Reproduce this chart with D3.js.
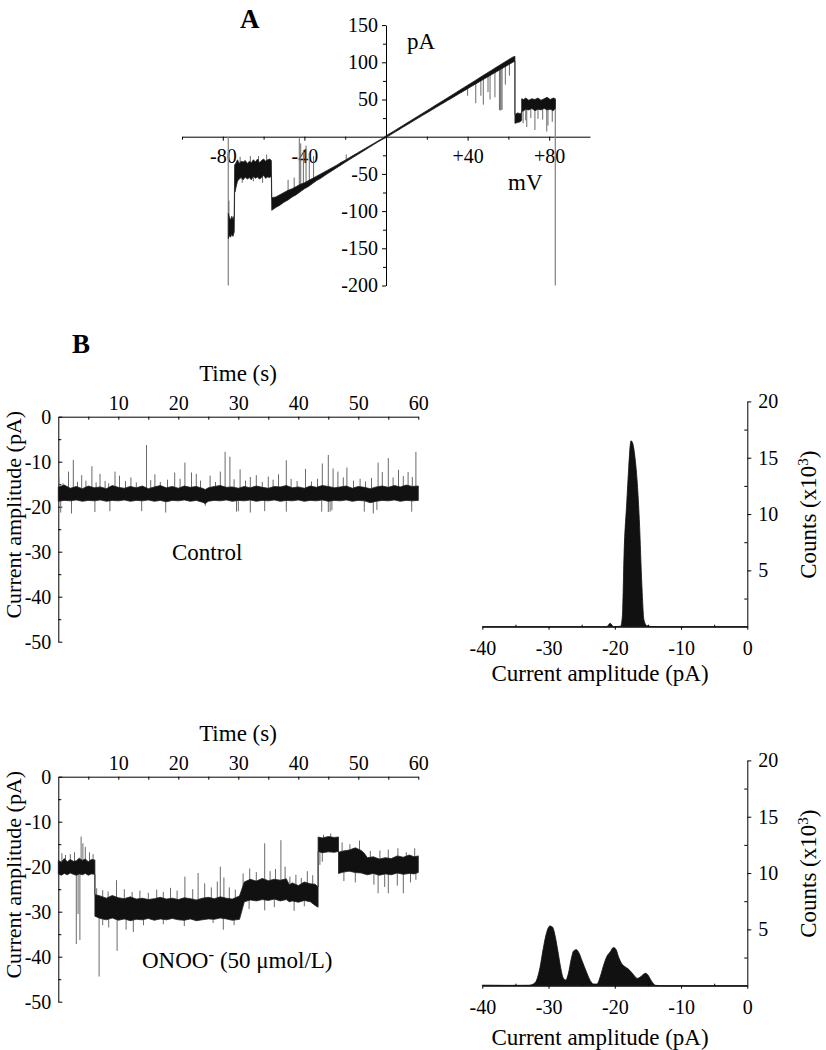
<!DOCTYPE html>
<html><head><meta charset="utf-8">
<script src="https://cdn.jsdelivr.net/npm/d3@7"></script>
<style>
body{margin:0;background:#fff;}
svg{display:block;font-family:"Liberation Serif","Times New Roman",serif;}
.axis path,.axis line{stroke:#000;stroke-width:1;}
.axis text{font-size:20px;fill:#000;font-family:"Liberation Serif","Times New Roman",serif;}
.title{font-size:23px;fill:#000;}
</style></head><body><svg id="c" width="826" height="1050"></svg>
<script>
// ---------------- Panel A : I-V ramp ----------------
const ivVoltTicks = [-80, -40, 40, 80];
const ivVoltTickLabels = ["-80", "-40", "+40", "+80"];
const ivVoltMinor = [-100, -60, -20, 20, 60];
const ivCurrTicks = [150, 100, 50, -50, -100, -150, -200];
const ivCurrMinor = [125, 75, 25, -25, -75, -125, -175];
// [mV, low pA, high pA]
const ivEnvelope = [
 [-77.3,-137,-103],[-76.8,-133,-108],[-76.2,-135,-112],[-75.6,-131,-107],[-75.0,-134,-111],[-74.4,-128,-106],
 [-74.2,-75,-38],[-73.5,-68,-35],[-72.8,-60,-31],[-72,-57,-36],[-71,-55,-33],[-70,-58,-34],[-69,-54,-32],
 [-68,-57,-36],[-67,-55,-33],[-66,-58,-35],[-65,-53,-31],[-64,-56,-34],[-63,-54,-30],[-62,-57,-35],
 [-61,-55,-32],[-60,-52,-30],[-59,-56,-33],[-58,-54,-31],[-57,-55,-30],[-56.2,-53,-32],
 [-56.0,-99,-82],[-54,-95,-81],[-52,-92,-78],[-50,-88,-75],[-48,-85,-72],[-46,-81,-70],[-44,-78,-67],
 [-42,-74,-64],[-40,-70,-62],[-38,-67,-59],[-36,-63,-56],[-34,-59,-53],[-32,-56,-50],[-30,-52,-47],
 [-28,-48.5,-44],[-26,-45,-41],[-24,-41.5,-38],[-22,-38,-34.5],[-20,-34.5,-31.5],[-18,-31,-28.2],
 [-16,-27.6,-25],[-14,-24.2,-21.8],[-12,-20.8,-18.6],[-10,-17.4,-15.4],[-8,-14,-12.2],[-6,-10.6,-9],
 [-4,-7.2,-5.8],[-2,-4,-2.6],[0,-1.2,1.2],
 [2,2.2,4.5],[4,5.5,7.8],[6,8.8,11.2],[8,12.2,14.6],[10,15.5,18],[12,18.8,21.4],[14,22.1,24.8],[16,25.4,28.2],
 [18,28.7,31.6],[20,32,35],[22,35.2,38.4],[24,38.5,41.8],[26,41.8,45.2],[28,45,48.6],[30,48.3,52],[32,51.5,55.5],
 [34,54.8,58.9],[36,58,62.3],[38,61.2,65.8],[40,64.5,69.2],[42,67.7,72.6],[44,71,76],[46,74.2,79.5],
 [48,77.4,83],[50,80.6,86.4],[52,83.8,89.8],[54,87,93.2],[56,90.2,96.6],[58,93.4,100],[60,96.6,103.4],
 [62,99.8,106.8],[63.2,101.5,108],
 [63.2,18,30],[64.5,19,32],[65.8,20,31],[66.5,22,33],
 [66.5,34,51],[67.5,35,50],[68.5,37,52],[70,36,49],[71.5,38,51],[73,35,50],[74.5,37,52],[76,36,49],
 [77.5,38,51],[79,36,53],[80.5,37,50],[82,35,52],[83,38,51]
];
// [mV, tip pA]
const ivSpikes = [
 [-77.0,-86],[-73.8,-74],[-71.5,-27],[-70.5,-62],[-66.5,-26],[-65,-60],[-62.5,-26],[-60.5,-62],[-58.5,-24],
 [-48,-58],[-45,-55],[-42.5,-2],[-41.8,-9],[-40.5,-18],[-39.2,-12],[-37.6,-22],[-35.5,-26],[-19.5,-24],
 [40,55],[44,45],[46.5,55],[47.7,43],[50,60],[51,50],[53.4,53],[55.6,36],[56,35],[56.4,36],[56.9,36],
 [58.5,70],[60.5,82],[67.2,18],[68.5,22],[69.0,13],[71.0,25],[73,9],[74.5,24],[76.8,23],[78.8,7],[79.4,15],[81.5,20]
];
// ramp-edge artefacts [mV, from pA, to pA]
const ivEdges = [[-77.3, 0, -200], [83, 50, -200]];

// ---------------- Panel B : traces ----------------
const timeTicks = [10, 20, 30, 40, 50, 60];
const timeMinor = [5, 15, 25, 35, 45, 55];
const ampTicks = [0, -10, -20, -30, -40, -50];
const ampMinor = [-5, -15, -25, -35, -45];
// control trace envelope [s, low pA, high pA]
const controlEnvelope = [
 [0,-18.8,-15.6],[1,-18.6,-15.2],[2,-18.7,-15.9],[3,-18.5,-15.5],[4,-18.8,-16.0],[5,-18.6,-15.4],
 [6,-18.7,-15.8],[7,-18.5,-15.6],[8,-18.8,-16.0],[9,-18.6,-15.3],[10,-18.7,-15.7],[11,-18.5,-15.9],
 [12,-18.8,-15.5],[13,-18.6,-15.8],[14,-18.7,-15.4],[15,-18.5,-16.0],[16,-18.8,-15.6],[17,-18.6,-15.3],
 [18,-18.9,-15.8],[19,-18.6,-15.5],[20,-18.7,-15.9],[21,-18.5,-15.4],[22,-18.8,-15.7],[23,-18.6,-15.5],
 [24,-19.0,-15.9],[24.5,-19.3,-16.2],[25,-18.8,-15.8],[26,-18.6,-15.5],[27,-18.7,-15.3],[28,-18.5,-15.7],
 [29,-18.8,-15.6],[30,-18.6,-15.9],[31,-18.7,-15.5],[32,-18.5,-15.8],[33,-18.8,-15.4],[34,-18.6,-15.7],
 [35,-18.7,-15.9],[36,-18.5,-15.5],[37,-18.8,-15.6],[38,-18.6,-15.3],[39,-18.7,-15.8],[40,-18.5,-15.6],
 [41,-18.8,-15.9],[42,-18.6,-15.4],[43,-18.7,-15.7],[44,-18.5,-15.3],[45,-18.8,-15.5],[46,-18.6,-15.8],
 [47,-18.7,-15.6],[48,-18.5,-15.4],[49,-18.8,-15.9],[50,-18.6,-15.5],[51,-18.7,-15.7],[52,-19.1,-16.0],
 [53,-18.8,-15.6],[54,-18.6,-15.4],[55,-18.7,-15.7],[56,-18.5,-15.3],[57,-18.8,-15.6],[58,-18.6,-15.2],
 [59,-18.7,-15.5],[60,-18.6,-15.4]
];
// [s, tip pA]
const controlSpikes = [
 [0.1,-13.5],[0.8,-14.8],[1.7,-12.2],[2.5,-9.6],[3.2,-14.5],[3.9,-13],[4.6,-14.2],[5.6,-11],[6.3,-14.6],
 [6.95,-12.7],[7.8,-14.3],[8.4,-14.8],[9.45,-12.2],[10.2,-13.1],[11.2,-14.3],[12.1,-13.5],[13.0,-14.6],
 [14.7,-6.3],[15.4,-14.1],[16.1,-12.8],[17.0,-14.5],[18.2,-14.0],[19.4,-12.4],[20.3,-13.8],[21.1,-10.2],
 [22.2,-12.4],[23.0,-12.7],[23.7,-14.2],[25.3,-13.1],[26.2,-14.5],[27.0,-12.2],[27.8,-7.8],[28.6,-8.9],
 [29.3,-13.9],[30.3,-11.7],[31.2,-14.2],[32.0,-13.4],[33.0,-13.0],[34.0,-14.5],[35.0,-13.3],[35.8,-14.0],
 [36.7,-12.8],[38.0,-9.7],[38.8,-13.8],[39.8,-14.3],[41.2,-11.6],[42.2,-14.4],[43.2,-13.8],[44.0,-10.4],
 [45.0,-8.5],[45.8,-11.5],[46.6,-12.2],[47.5,-13.5],[48.1,-11.3],[49.2,-14.2],[50.3,-13.8],[51.2,-14.4],
 [52.2,-13.6],[53.3,-10.2],[54.0,-12.3],[55.0,-9.2],[55.8,-13.5],[56.7,-11.8],[57.5,-13.2],[58.3,-12.3],
 [59.0,-13.4],[59.6,-7.8],
 [0.4,-21.3],[2.2,-21.5],[6.1,-21.2],[8.6,-21.0],[13.9,-21.0],[17.9,-21.3],[24.5,-19.8],[29.7,-21.1],
 [30.0,-21.0],[32.0,-21.3],[34.4,-21.0],[38.0,-21.1],[43.9,-21.1],[45.0,-21.2],[45.3,-21.1],[45.6,-20.8],
 [51.0,-21.1],[52.5,-21.5],[53.1,-20.7],[58.9,-21.1]
];
// ONOO- trace envelope [s, low pA, high pA]
const onooEnvelope = [
 [0,-21.6,-18.6],[0.5,-21.9,-19.0],[1,-21.5,-18.2],[1.5,-21.8,-18.9],[2,-21.4,-18.4],[2.5,-21.7,-18.8],
 [3,-21.9,-18.7],[3.5,-21.6,-18.1],[4,-21.8,-18.6],[4.5,-21.5,-18.3],[5,-21.9,-18.9],[5.5,-21.6,-18.4],
 [6.1,-21.7,-18.5],
 [6.1,-31.0,-26.2],[7,-31.5,-26.5],[8,-31.8,-27.0],[9,-31.4,-26.4],[10,-31.9,-26.9],[11,-31.6,-27.1],
 [12,-32.0,-26.7],[13,-31.7,-27.2],[14,-31.8,-27.0],[15,-31.5,-27.3],[16,-31.9,-27.1],[17,-31.6,-26.8],
 [18,-31.8,-27.2],[19,-31.5,-27.0],[20,-31.8,-27.3],[21,-31.9,-26.9],[22,-31.6,-27.1],[23,-32.0,-27.4],
 [24,-31.8,-27.0],[25,-31.6,-26.8],[26,-31.7,-27.1],[27,-31.4,-26.7],[28,-31.6,-27.0],[29,-31.9,-27.2],
 [30.2,-31.7,-26.5],
 [31,-27.8,-23.4],[32,-27.4,-22.8],[33,-27.6,-23.2],[34,-27.3,-22.6],[35,-27.5,-23.1],[36,-27.2,-22.8],
 [37,-27.6,-23.0],[38,-27.3,-22.7],[38.5,-27.8,-24.0],[39,-27.6,-23.6],[40,-27.9,-24.2],[41,-27.5,-23.4],
 [42,-27.8,-23.8],[42.8,-28.6,-23.9],[43.3,-29.0,-24.5],
 [43.3,-16.6,-13.4],[44,-16.9,-13.6],[45,-16.7,-13.3],[46,-16.8,-13.5],[46.7,-16.6,-13.4],
 [46.7,-21.5,-16.8],[47.5,-21.2,-16.5],[48.5,-21.0,-16.3],[49.5,-21.3,-15.8],[50.5,-21.4,-16.4],[51,-21.6,-17.0],
 [51.5,-21.8,-18.0],[52.5,-21.5,-17.8],[53.5,-21.9,-18.3],[54.5,-21.6,-18.0],[55.5,-21.8,-18.2],
 [56.5,-21.4,-17.6],[57.5,-21.7,-17.9],[58.5,-21.5,-17.4],[59.3,-21.6,-17.8],[60,-21.3,-17.6]
];
const onooSpikes = [
 [0.6,-17.0],[1.2,-17.4],[2.0,-17.2],[2.7,-16.8],[3.8,-13.3],[4.1,-14.8],[4.5,-15.6],[5.2,-16.8],[5.8,-17.2],
 [6.4,-24.8],[7.4,-25.2],[8.3,-25.5],[9.7,-23.0],[11.0,-25.0],[12.3,-25.6],[13.6,-25.3],[15.0,-25.8],
 [16.4,-25.1],[17.5,-25.6],[18.7,-24.7],[19.8,-25.3],[21.1,-22.2],[22.4,-25.0],[23.3,-21.4],[24.4,-23.7],
 [25.5,-24.6],[26.5,-23.3],[27.0,-20.0],[27.6,-22.4],[28.5,-24.6],[29.5,-25.1],[30.8,-21.5],[31.9,-20.4],
 [33.0,-21.2],[34.4,-14.8],[35.3,-21.0],[36.2,-20.5],[37.1,-14.1],[37.8,-20.0],[38.6,-22.2],[39.6,-21.8],
 [40.5,-22.5],[41.5,-21.0],[42.4,-21.9],[44.2,-12.9],[45.4,-12.6],[47.3,-14.6],[48.6,-15.0],[50.2,-14.2],
 [52.0,-16.5],[53.6,-16.4],[55.0,-16.2],[56.6,-15.9],[58.0,-16.8],[59.4,-15.9],
 [3.0,-37.2],[3.3,-30.5],[3.6,-36.3],[6.8,-44.4],[7.4,-33.0],[8.4,-33.5],[9.8,-38.7],[11.3,-34.0],
 [12.5,-34.5],[14.2,-33.0],[17.5,-32.8],[21.0,-33.2],[25.8,-32.5],[27.5,-34.0],[29.3,-33.0],[31.8,-29.4],
 [34.4,-29.7],[36.0,-29.0],[39.3,-29.8],[41.0,-28.8],[43.6,-19.6],[44.0,-18.9],[47.6,-23.2],[49.5,-23.5],
 [52.6,-24.0],[53.3,-25.9],[54.4,-24.5],[55.0,-25.9],[56.5,-24.2],[57.5,-25.9],[58.7,-23.5],[59.6,-22.9]
];

// ---------------- Histograms ----------------
const histAmpTicks = [-40, -30, -20, -10, 0];
const histAmpMinor = [-35, -25, -15, -5];
const countTicks = [5, 10, 15, 20];
const countMinor = [2.5, 7.5, 12.5, 17.5];
const controlHistAmp =   [-40, -22, -21.2, -20.7, -20.2, -19.5, -19.1, -18.85, -18.6, -18.2, -17.9, -17.56, -17.31, -16.95, -16.6, -16.3, -15.9, -15.6, -15.2, -14.5, -13, 0];
const controlHistCount = [0,   0,   0,     0.3,   0,     0.02,  0.05,  1.0,    6.5,   11,    14.1,  16.5,   16.3,   15.0,   12.7,  9.5,   3.5,   0.6,   0.1,   0.02,  0,   0];
const onooHistAmp =   [-40,-36,-33,-32.3,-31.8,-31.3,-30.8,-30.3,-29.8,-29.4,-29.0,-28.6,-28.2,-27.8,-27.4,-27.0,-26.6,-26.2,-25.8,-25.4,-25.0,-24.6,-24.2,-23.7,-23.2,-22.7,-22.2,-21.7,-21.2,-20.7,-20.2,-19.8,-19.4,-19.0,-18.5,-18.0,-17.5,-17.0,-16.6,-16.2,-15.8,-15.4,-15.0,-14.6,-14.2,-13.8,-13,0];
const onooHistCount = [0.05,0.03,0.04,0.15,0.5,1.6,3.3,4.7,5.3,5.2,4.4,3.1,1.7,0.7,0.5,1.1,2.3,3.1,3.2,2.9,2.3,1.7,1.1,0.45,0.15,0.15,0.8,1.8,2.6,3.0,3.4,3.2,2.5,2.0,1.7,1.5,1.2,0.85,0.65,0.75,0.95,1.1,0.95,0.55,0.2,0.03,0,0];

// =============== drawing ===============
const svg = d3.select("#c");
svg.append("rect").attr("width",826).attr("height",1050).attr("fill","#fff");
const fmt = d => String(d);

function styleAxis(g){ g.attr("font-size",null).attr("font-family",null).attr("class","axis"); }
function midAt(env, t){
  for(let i=0;i<env.length-1;i++){
    if(env[i][0]<=t && t<=env[i+1][0]){
      const a=env[i], b=env[i+1];
      const f = b[0]===a[0]?0:(t-a[0])/(b[0]-a[0]);
      return ((a[1]+a[2])/2)*(1-f)+((b[1]+b[2])/2)*f;
    }
  }
  const e=env[env.length-1]; return (e[1]+e[2])/2;
}
function drawTrace(g, env, spikes, x, y){
  g.append("g").selectAll("line").data(spikes).join("line")
    .attr("x1",d=>x(d[0])).attr("x2",d=>x(d[0]))
    .attr("y1",d=>y(midAt(env,d[0]))).attr("y2",d=>y(d[1]))
    .attr("stroke","#6a6a6a").attr("stroke-width",1);
  g.append("path").datum(env)
    .attr("d", d3.area().x(d=>x(d[0])).y0(d=>y(d[1])).y1(d=>y(d[2])))
    .attr("fill","#111").attr("stroke","#222").attr("stroke-width",0.8);
}

// ---- Panel A ----
const ivX = d3.scaleLinear().domain([-100,100]).range([182,590]);
const ivY = d3.scaleLinear().domain([-200,150]).range([285.5,25.1]);
const gA = svg.append("g");
gA.append("g").attr("transform",`translate(0,${ivY(0)})`)
  .call(d3.axisBottom(ivX).tickValues(ivVoltTicks).tickFormat((d,i)=>ivVoltTickLabels[i]).tickSizeInner(4).tickSizeOuter(0).tickPadding(8))
  .call(styleAxis);
gA.append("g").attr("transform",`translate(0,${ivY(0)})`)
  .call(d3.axisBottom(ivX).tickValues(ivVoltMinor).tickFormat("").tickSizeInner(3).tickSizeOuter(0))
  .call(styleAxis).call(g=>g.select(".domain").remove());
gA.append("g").attr("transform",`translate(${ivX(0)},0)`)
  .call(d3.axisLeft(ivY).tickValues(ivCurrTicks).tickFormat(fmt).tickSizeInner(4).tickSizeOuter(0).tickPadding(4))
  .call(styleAxis);
gA.append("g").attr("transform",`translate(${ivX(0)},0)`)
  .call(d3.axisLeft(ivY).tickValues(ivCurrMinor).tickFormat("").tickSizeInner(3).tickSizeOuter(0))
  .call(styleAxis).call(g=>g.select(".domain").remove());
gA.append("g").selectAll("line").data(ivEdges).join("line")
  .attr("x1",d=>ivX(d[0])).attr("x2",d=>ivX(d[0])).attr("y1",d=>ivY(d[1])).attr("y2",d=>ivY(d[2]))
  .attr("stroke","#8a8a8a").attr("stroke-width",1.3);
drawTrace(gA, ivEnvelope, ivSpikes, ivX, ivY);
svg.append("text").attr("x",240).attr("y",28).attr("font-size",27).attr("font-weight","bold").text("A");
svg.append("text").attr("class","title").attr("x",407).attr("y",49).text("pA");
svg.append("text").attr("class","title").attr("x",508).attr("y",190).text("mV");

// ---- Panel B ----
svg.append("text").attr("x",72).attr("y",353).attr("font-size",27).attr("font-weight","bold").text("B");

function tracePanel(yTop, env, spikes, yTitleBase, labelPos){
  const x = d3.scaleLinear().domain([0,60]).range([58.3,418.3]);
  const y = d3.scaleLinear().domain([-50,0]).range([yTop+225, yTop]);
  const g = svg.append("g");
  g.append("g").attr("transform",`translate(0,${yTop})`)
    .call(d3.axisTop(x).tickValues(timeTicks).tickFormat(fmt).tickSizeInner(-3).tickSizeOuter(0).tickPadding(7))
    .call(styleAxis);
  g.append("g").attr("transform",`translate(0,${yTop})`)
    .call(d3.axisTop(x).tickValues(timeMinor).tickFormat("").tickSizeInner(-3).tickSizeOuter(0))
    .call(styleAxis).call(gg=>gg.select(".domain").remove());
  g.append("g").attr("transform",`translate(${x(0)},0)`)
    .call(d3.axisLeft(y).tickValues(ampTicks).tickFormat(fmt).tickSizeInner(-4).tickSizeOuter(0).tickPadding(7))
    .call(styleAxis);
  g.append("g").attr("transform",`translate(${x(0)},0)`)
    .call(d3.axisLeft(y).tickValues(ampMinor).tickFormat("").tickSizeInner(-3).tickSizeOuter(0))
    .call(styleAxis).call(gg=>gg.select(".domain").remove());
  drawTrace(g, env, spikes, x, y);
  g.append("text").attr("class","title").attr("x",238).attr("y",yTitleBase).attr("text-anchor","middle").text("Time (s)");
  g.append("text").attr("class","title").attr("font-size",22).style("font-size","22px")
    .attr("transform",`translate(21,${yTop+98}) rotate(-90)`)
    .attr("text-anchor","middle").text("Current amplitude (pA)");
  return g.append("text").attr("class","title").attr("x",labelPos[0]).attr("y",labelPos[1]);
}
tracePanel(416.7, controlEnvelope, controlSpikes, 381, [172,560]).text("Control");
const tOn = tracePanel(776.7, onooEnvelope, onooSpikes, 741, [142,968]);
tOn.append("tspan").text("ONOO");
tOn.append("tspan").attr("dy",-8).attr("font-size",17).text("-");
tOn.append("tspan").attr("dy",8).text(" (50 \u03bcmol/L)");

function histPanel(yBase, amps, counts, xTitleBase){
  const x = d3.scaleLinear().domain([-40,0]).range([482.3,747.3]);
  const y = d3.scaleLinear().domain([0,20]).range([yBase, yBase-225.3]);
  const g = svg.append("g");
  const data = amps.map((a,i)=>[a,counts[i]]);
  g.append("path").datum(data)
    .attr("d", d3.area().x(d=>x(d[0])).y0(y(0)).y1(d=>y(d[1])).curve(d3.curveMonotoneX))
    .attr("fill","#111").attr("stroke","#111").attr("stroke-width",0.8);
  g.append("g").attr("transform",`translate(0,${yBase})`)
    .call(d3.axisBottom(x).tickValues(histAmpTicks).tickFormat(fmt).tickSizeInner(3).tickSizeOuter(0).tickPadding(11))
    .call(styleAxis);
  g.append("g").attr("transform",`translate(0,${yBase})`)
    .call(d3.axisBottom(x).tickValues(histAmpMinor).tickFormat("").tickSizeInner(-2).tickSizeOuter(0))
    .call(styleAxis).call(gg=>gg.select(".domain").remove());
  g.append("g").attr("transform",`translate(${x(0)},0)`)
    .call(d3.axisRight(y).tickValues(countTicks).tickFormat(fmt).tickSizeInner(4).tickSizeOuter(0).tickPadding(7))
    .call(styleAxis);
  g.append("g").attr("transform",`translate(${x(0)},0)`)
    .call(d3.axisRight(y).tickValues(countMinor).tickFormat("").tickSizeInner(-3).tickSizeOuter(0))
    .call(styleAxis).call(gg=>gg.select(".domain").remove());
  g.append("text").attr("class","title").attr("x",600).attr("y",xTitleBase).attr("text-anchor","middle").text("Current amplitude (pA)");
  const c = g.append("text").attr("class","title").attr("transform",`translate(816,${yBase-112}) rotate(-90)`).attr("text-anchor","middle");
  c.append("tspan").text("Counts (x10");
  c.append("tspan").attr("dy",-8).attr("font-size",15).text("3");
  c.append("tspan").attr("dy",8).text(")");
}
histPanel(626.7, controlHistAmp, controlHistCount, 681);
histPanel(985.7, onooHistAmp, onooHistCount, 1045);
</script></body></html>
